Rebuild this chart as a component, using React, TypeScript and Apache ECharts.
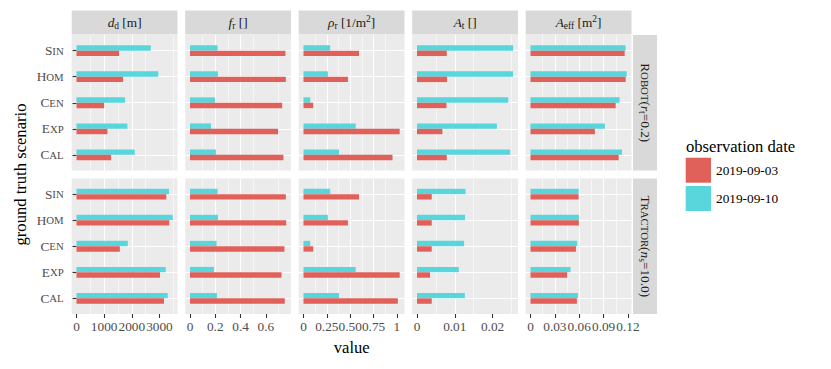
import React, { useEffect, useRef } from 'react';
import * as echarts from 'echarts';

// categories, bottom to top (as ECharts draws a y category axis)
const scenarios = ['CAL', 'EXP', 'CEN', 'HOM', 'SIN'];
const dates = ['2019-09-03', '2019-09-10'];

// ROBOT (r_t = 0.2) row
const robotDd0903 = [1253, 1119, 1000, 1686, 1541];
const robotDd0910 = [2108, 1841, 1758, 2960, 2686];
const robotFr0903 = [0.739, 0.697, 0.729, 0.758, 0.755];
const robotFr0910 = [0.205, 0.166, 0.197, 0.221, 0.218];
const robotRho0903 = [0.953, 1.03, 0.104, 0.476, 0.595];
const robotRho0910 = [0.38, 0.559, 0.072, 0.261, 0.286];
const robotAt0903 = [0.00788, 0.00673, 0.0078, 0.00796, 0.00788];
const robotAt0910 = [0.02467, 0.02114, 0.02415, 0.0254, 0.02546];
const robotAeff0903 = [0.1085, 0.0793, 0.1048, 0.1171, 0.1159];
const robotAeff0910 = [0.1126, 0.0916, 0.1097, 0.1184, 0.1171];

// TRACTOR (n_s = 10.0) row
const tractorDd0903 = [3166, 3022, 1567, 3357, 3249];
const tractorDd0910 = [3300, 3227, 1856, 3480, 3347];
const tractorFr0903 = [0.75, 0.724, 0.747, 0.761, 0.758];
const tractorFr0910 = [0.213, 0.189, 0.21, 0.221, 0.218];
const tractorRho0903 = [1.01, 1.03, 0.104, 0.476, 0.595];
const tractorRho0910 = [0.38, 0.559, 0.072, 0.261, 0.286];
const tractorAt0903 = [0.0039, 0.00345, 0.0039, 0.0039, 0.0039];
const tractorAt0910 = [0.01265, 0.01106, 0.01247, 0.01273, 0.01284];
const tractorAeff0903 = [0.0571, 0.0452, 0.0559, 0.0596, 0.0592];
const tractorAeff0910 = [0.0584, 0.0493, 0.0575, 0.0596, 0.0592];

// tick breaks and labels per column
const ddBreaks = [0, 1000, 2000, 3000];
const ddLabels = ['0', '1000', '2000', '3000'];
const frBreaks = [0, 0.2, 0.4, 0.6];
const frLabels = ['0', '0.2', '0.4', '0.6'];
const rhoBreaks = [0, 0.25, 0.5, 0.75, 1];
const rhoLabels = ['0', '0.25', '0.50', '0.75', '1'];
const atBreaks = [0, 0.01, 0.02];
const atLabels = ['0', '0.01', '0.02'];
const aeffBreaks = [0, 0.03, 0.06, 0.09, 0.12];
const aeffLabels = ['0', '0.03', '0.06', '0.09', '0.12'];

const RED = '#E0605A';
const CYAN = '#59D5DC';
const FONT = '"Liberation Serif", "Times New Roman", serif';

const rows = [
  [[robotDd0903, robotDd0910], [robotFr0903, robotFr0910], [robotRho0903, robotRho0910], [robotAt0903, robotAt0910], [robotAeff0903, robotAeff0910]],
  [[tractorDd0903, tractorDd0910], [tractorFr0903, tractorFr0910], [tractorRho0903, tractorRho0910], [tractorAt0903, tractorAt0910], [tractorAeff0903, tractorAeff0910]],
];
const colBreaks = [ddBreaks, frBreaks, rhoBreaks, atBreaks, aeffBreaks];
const colLabels = [ddLabels, frLabels, rhoLabels, atLabels, aeffLabels];

const stripTexts = [
  '{i|d}{s|d}{n| [m]}',
  '{i|f}{s|r}{n| []}',
  '{i|ρ}{s|r}{n| [1/m}{p|2}{n|]}',
  '{i|A}{s|t}{n| []}',
  '{i|A}{s|eff}{n| [m}{p|2}{n|]}',
];
const rowStripTexts = [
  '{c|R}{sc|OBOT}{n|(}{i|r}{s|t}{n|=0.2)}',
  '{c|T}{sc|RACTOR}{n|(}{i|n}{s|s}{n|=10.0)}',
];

const colLefts = [71.7, 185.2, 298.7, 412.2, 525.7];
const PW = 105.8;
const rowTops = [35, 178.5];
const PH = 135.5;

const STRIP_FILL = '#D9D9D9';
const stripRich = {
  i: { fontFamily: FONT, fontSize: 13.3, fontStyle: 'italic', fill: '#1A1A1A', color: '#1A1A1A' },
  n: { fontFamily: FONT, fontSize: 13.3, fill: '#1A1A1A', color: '#1A1A1A' },
  c: { fontFamily: FONT, fontSize: 13.3, fill: '#1A1A1A', color: '#1A1A1A' },
  sc: { fontFamily: FONT, fontSize: 10.8, fill: '#1A1A1A', color: '#1A1A1A' },
  s: { fontFamily: FONT, fontSize: 9.5, fill: '#1A1A1A', color: '#1A1A1A', padding: [7, 0, 0, 0] },
  p: { fontFamily: FONT, fontSize: 9.5, fill: '#1A1A1A', color: '#1A1A1A', padding: [0, 0, 7, 0] },
};

const hiddenLine = { show: true, lineStyle: { color: 'rgba(0,0,0,0)', width: 0 } };

function App() {
  const ref = useRef<HTMLDivElement>(null);
  useEffect(() => {
    if (!ref.current) return;
    const chart = echarts.init(ref.current, null, { renderer: 'svg' });
    const grid: any[] = [];
    const xAxis: any[] = [];
    const yAxis: any[] = [];
    const series: any[] = [];

    for (let c = 0; c < 5; c++) {
      let mx = 0;
      rows.forEach((row) => row[c].forEach((arr) => arr.forEach((v) => { if (v > mx) mx = v; })));
      const xmin = -0.05 * mx;
      const xmax = 1.05 * mx;
      const breaks = colBreaks[c];
      const labels = colLabels[c];
      const major = breaks[1] - breaks[0];
      for (let r = 0; r < 2; r++) {
        const top = rowTops[r];
        const u = PH / 5.2;
        const gBg = grid.length;
        grid.push({ left: colLefts[c], top, width: PW, height: PH, show: true, backgroundColor: '#EBEBEB', borderWidth: 0 });
        const gData = grid.length;
        grid.push({ left: colLefts[c], top: top + 0.1 * u, width: PW, height: 5 * u, show: false });

        xAxis.push({
          type: 'value', gridIndex: gBg, min: xmin, max: xmax, minInterval: major, maxInterval: major,
          splitLine: { show: true, showMinLine: false, showMaxLine: false, lineStyle: { color: '#FFFFFF', width: 1.1 } },
          minorTick: { show: false, splitNumber: 2 },
          minorSplitLine: { show: true, lineStyle: { color: '#FFFFFF', width: 0.55 } },
          axisLine: r === 1 ? hiddenLine : { show: false },
          axisTick: { show: r === 1, inside: false, length: 4, customValues: breaks, lineStyle: { color: '#333333', width: 1.1 } },
          axisLabel: {
            show: r === 1, customValues: breaks, margin: 6, hideOverlap: false,
            fontFamily: FONT, fontSize: 13.3, color: '#4D4D4D',
            formatter: (v: number) => {
              const k = breaks.findIndex((b) => Math.abs(b - v) < major * 1e-6);
              return k >= 0 ? labels[k] : '';
            },
          },
        });
        yAxis.push({
          type: 'value', gridIndex: gBg, min: 0.4, max: 5.6, minInterval: 1, maxInterval: 1,
          splitLine: { show: true, showMinLine: false, showMaxLine: false, lineStyle: { color: '#FFFFFF', width: 1.1 } },
          axisLine: { show: false }, axisTick: { show: false }, axisLabel: { show: false },
        });
        const dx = xAxis.length;
        xAxis.push({ type: 'value', gridIndex: gData, min: xmin, max: xmax, show: false });
        const dy = yAxis.length;
        yAxis.push({
          type: 'category', gridIndex: gData, data: scenarios,
          axisLine: c === 0 ? hiddenLine : { show: false },
          splitLine: { show: false },
          axisTick: { show: c === 0, inside: false, alignWithLabel: true, length: 4, lineStyle: { color: '#333333', width: 1.1 } },
          axisLabel: {
            show: c === 0, margin: 8,
            formatter: (v: string) => `{a|${v[0]}}{b|${v.slice(1)}}`,
            rich: {
              a: { fontFamily: FONT, fontSize: 13.3, color: '#4D4D4D' },
              b: { fontFamily: FONT, fontSize: 10.8, color: '#4D4D4D' },
            },
          },
        });
        series.push({
          type: 'bar', name: dates[1], xAxisIndex: dx, yAxisIndex: dy, data: rows[r][c][1],
          barWidth: 5.4, barGap: '0%', itemStyle: { color: CYAN }, silent: true,
        });
        series.push({
          type: 'bar', name: dates[0], xAxisIndex: dx, yAxisIndex: dy, data: rows[r][c][0],
          barWidth: 5.4, barGap: '0%', itemStyle: { color: RED }, silent: true,
        });
      }
    }

    const graphic: any[] = [];
    for (let c = 0; c < 5; c++) {
      graphic.push({ type: 'rect', shape: { x: colLefts[c], y: 10.5, width: PW, height: 24 }, style: { fill: STRIP_FILL }, silent: true });
      graphic.push({
        type: 'text', x: colLefts[c] + PW / 2, y: 22.5, silent: true,
        style: { text: stripTexts[c], rich: stripRich, align: 'center', verticalAlign: 'middle', textAlign: 'center', textVerticalAlign: 'middle', fontFamily: FONT, fontSize: 13.3, fill: '#1A1A1A' },
      });
    }
    for (let r = 0; r < 2; r++) {
      graphic.push({ type: 'rect', shape: { x: 633, y: rowTops[r], width: 24, height: PH }, style: { fill: STRIP_FILL }, silent: true });
      graphic.push({
        type: 'text', x: 645, y: rowTops[r] + PH / 2, rotation: -Math.PI / 2, silent: true,
        style: { text: rowStripTexts[r], rich: stripRich, align: 'center', verticalAlign: 'middle', textAlign: 'center', textVerticalAlign: 'middle', fontFamily: FONT, fontSize: 13.3, fill: '#1A1A1A' },
      });
    }
    graphic.push({
      type: 'text', x: 20, y: 174.5, rotation: Math.PI / 2, silent: true,
      style: { text: 'ground truth scenario', align: 'center', verticalAlign: 'middle', textAlign: 'center', textVerticalAlign: 'middle', fontFamily: FONT, fontSize: 16.6, fill: '#000000' },
    });
    graphic.push({
      type: 'text', x: 351.7, y: 347, silent: true,
      style: { text: 'value', align: 'center', verticalAlign: 'middle', textAlign: 'center', textVerticalAlign: 'middle', fontFamily: FONT, fontSize: 16.6, fill: '#000000' },
    });
    graphic.push({
      type: 'text', x: 686, y: 146, silent: true,
      style: { text: 'observation date', align: 'left', verticalAlign: 'middle', textAlign: 'left', textVerticalAlign: 'middle', fontFamily: FONT, fontSize: 16.6, fill: '#000000' },
    });

    chart.setOption({
      animation: false,
      backgroundColor: '#FFFFFF',
      grid, xAxis, yAxis, series, graphic,
      legend: {
        data: dates, orient: 'vertical', left: 685.7, top: 157.7, itemWidth: 25.3, itemHeight: 25, itemGap: 3.3,
        icon: 'rect', selectedMode: false, padding: 0,
        textStyle: { fontFamily: FONT, fontSize: 13.3, color: '#000000' },
      },
    });
    return () => chart.dispose();
  }, []);
  return <div ref={ref} style={{ position: 'fixed', left: 0, top: 0, width: 831, height: 369 }} />;
}

export default App;
